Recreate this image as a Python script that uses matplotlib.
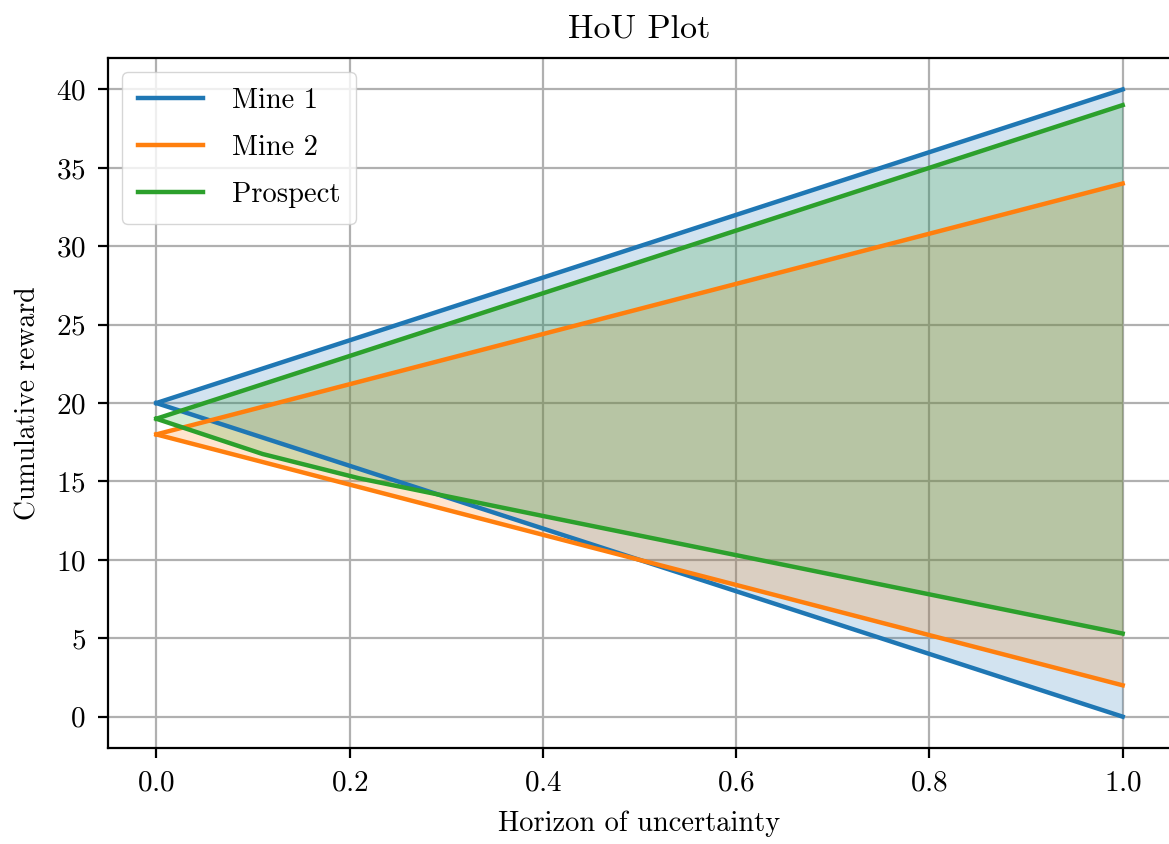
import matplotlib
matplotlib.use("Agg")
import matplotlib.pyplot as plt

# horizon of uncertainty (alpha) sample points
alpha = [0.0, 0.11, 0.21, 0.4, 0.6, 0.8, 1.0]

# upper / lower cumulative reward bounds
mine1_hi = [20, 22.2, 24.2, 28, 32, 36, 40]
mine1_lo = [20, 17.8, 15.8, 12, 8, 4, 0]
mine2_hi = [18, 19.76, 21.36, 24.4, 27.6, 30.8, 34]
mine2_lo = [18, 16.24, 14.64, 11.6, 8.4, 5.2, 2]
prosp_hi = [19, 21.2, 23.2, 27, 31, 35, 39]
prosp_lo = [19, 16.75, 15.2, 12.8, 10.3, 7.8, 5.3]

names = ["Mine 1", "Mine 2", "Prospect"]
colors = ["#1f77b4", "#ff7f0e", "#2ca02c"]

plt.rcParams["font.family"] = ["cmr10", "DejaVu Serif"]
plt.rcParams["mathtext.fontset"] = "cm"
plt.rcParams["axes.formatter.use_mathtext"] = True
plt.rcParams["font.size"] = 20

fig = plt.figure(figsize=(11.69, 8.44), dpi=100)
ax = fig.add_axes([0.0924, 0.1137, 0.9093, 0.8175])

series = [(mine1_lo, mine1_hi), (mine2_lo, mine2_hi), (prosp_lo, prosp_hi)]
for (lo, hi), name, col in zip(series, names, colors):
    ax.plot(alpha, hi, color=col, lw=3.2, label=name)
    ax.plot(alpha, lo, color=col, lw=3.2)
    ax.fill_between(alpha, lo, hi, color=col, alpha=0.2, lw=0)

ax.set_xlim(-0.05, 1.05)
ax.set_ylim(-2, 42)
ax.set_xticks([0.0, 0.2, 0.4, 0.6, 0.8, 1.0])
ax.set_yticks(range(0, 41, 5))
ax.grid(True, color="#b0b0b0", lw=1.6)
ax.set_axisbelow(True)
for sp in ax.spines.values():
    sp.set_linewidth(1.6)
ax.tick_params(width=1.6, length=7, pad=9, labelsize=21)

ax.set_xlabel("Horizon of uncertainty", fontsize=20.5, labelpad=10)
ax.set_ylabel("Cumulative reward", labelpad=10)
ax.set_title("HoU Plot", fontsize=24.5, pad=15)
ax.legend(loc="upper left", framealpha=0.8, edgecolor="#cccccc", fancybox=True,
          fontsize=20.5, handlelength=2.3, handletextpad=1.0, labelspacing=0.72,
          borderpad=0.55)

fig.savefig("out.png", dpi=100)
